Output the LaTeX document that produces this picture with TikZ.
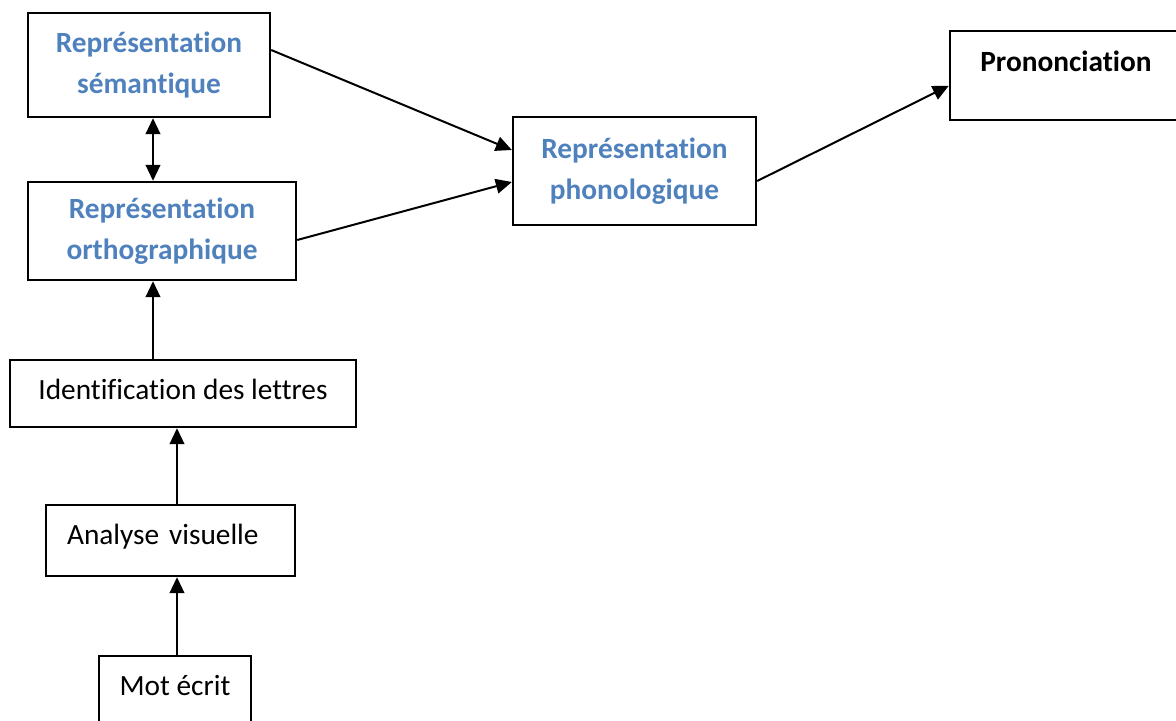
\documentclass[tikz,border=0pt]{standalone}
\usepackage{fontspec}
\setmainfont{Carlito}[Ligatures=NoCommon]
\usetikzlibrary{arrows.meta,calc}
\definecolor{levelblue}{HTML}{4F81BD}

\begin{document}
\begin{tikzpicture}[
x=0.375pt, y=-0.375pt,
every node/.style={draw, line width=0.9pt, inner sep=0pt, align=center,
  font=\fontsize{11}{15.4}\selectfont},
level/.style={font=\fontsize{11}{15.4}\selectfont\bfseries, text=levelblue},
>={Triangle[width=5.5pt,length=6pt]},
every path/.style={line width=0.75pt}
]
\useasboundingbox (0,0) rectangle (1176,720);

\node[level, minimum width=90.75pt, minimum height=39pt] (sem) at (149,65)
    {Représentation\\sémantique};
\node[level, minimum width=100.5pt, minimum height=36.75pt] (ortho) at (162,231)
    {Représentation\\orthographique};
\node[minimum width=129.75pt, minimum height=25.1pt, text depth=3pt] (ident) at (183,393.5)
    {Identification des lettres};
\node[minimum height=26.6pt, text width=77.6pt, inner xsep=7.9pt, align=left, text depth=5pt] (ana) at (170.5,540.5)
    {Analyse visuelle};
\node[minimum width=57pt, text height=14.6pt, text depth=19pt, anchor=north] (mot) at (175,655)
    {Mot écrit};
\node[level, minimum width=91.1pt, minimum height=40.5pt] (phono) at (634.5,171)
    {Représentation\\phonologique};
\node[font=\fontsize{11}{15.4}\selectfont\bfseries, minimum width=87pt,
    text height=15pt, text depth=18.4pt, anchor=north] (pron) at (1066,30)
    {Prononciation};

\draw[<->] ($(sem.south)+(4,0)$) -- ($(ortho.north)+(-9,0)$);
\draw[->] ($(ident.north)+(-30,0)$) -- ($(ortho.south)+(-9,0)$);
\draw[->] ($(ana.north)+(6.5,0)$) -- ($(ident.south)+(-6,0)$);
\draw[->] ($(mot.north)+(2,0)$) -- ($(ana.south)+(6.5,0)$);
\draw[->] ($(sem.east)+(0,-15)$) -- ($(phono.west)+(0,-21)$);
\draw[->] ($(ortho.east)+(0,9)$) -- ($(phono.west)+(0,11)$);
\draw[->] ($(phono.east)+(0,10)$) -- ($(pron.west)+(0,10)$);
\end{tikzpicture}
\end{document}
